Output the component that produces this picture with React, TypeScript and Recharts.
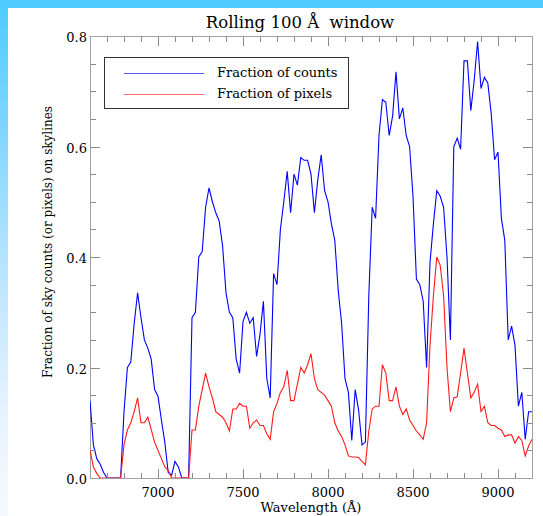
import React from "react";
import { LineChart, Line, XAxis, YAxis } from "recharts";

const WAVELENGTH = [
  6600, 6620, 6640, 6660, 6680, 6700, 6720, 6740, 6760, 6780,
  6800, 6820, 6840, 6860, 6880, 6900, 6920, 6940, 6960, 6980,
  7000, 7020, 7040, 7060, 7080, 7100, 7120, 7140, 7160, 7180,
  7200, 7220, 7240, 7260, 7280, 7300, 7320, 7340, 7360, 7380,
  7400, 7420, 7440, 7460, 7480, 7500, 7520, 7540, 7560, 7580,
  7600, 7620, 7640, 7660, 7680, 7700, 7720, 7740, 7760, 7780,
  7800, 7820, 7840, 7860, 7880, 7900, 7920, 7940, 7960, 7980,
  8000, 8020, 8040, 8060, 8080, 8100, 8120, 8140, 8160, 8180,
  8200, 8220, 8240, 8260, 8280, 8300, 8320, 8340, 8360, 8380,
  8400, 8420, 8440, 8460, 8480, 8500, 8520, 8540, 8560, 8580,
  8600, 8620, 8640, 8660, 8680, 8700, 8720, 8740, 8760, 8780,
  8800, 8820, 8840, 8860, 8880, 8900, 8920, 8940, 8960, 8980,
  9000, 9020, 9040, 9060, 9080, 9100, 9120, 9140, 9160, 9180,
  9200,
];

const FRACTION_COUNTS = [
  0.14, 0.06, 0.035, 0.025, 0.01, 0.0, 0.0, 0.0, 0.0, 0.0,
  0.12, 0.2, 0.21, 0.28, 0.335, 0.29, 0.25, 0.235, 0.215, 0.16,
  0.148, 0.105, 0.065, 0.01, 0.005, 0.03, 0.02, 0.0, 0.0, 0.0,
  0.29, 0.3, 0.4, 0.41, 0.49, 0.525, 0.5, 0.48, 0.465, 0.42,
  0.335, 0.3, 0.29, 0.215, 0.19, 0.283, 0.3, 0.28, 0.29, 0.22,
  0.26, 0.32, 0.18, 0.145, 0.37, 0.35, 0.45, 0.5, 0.555, 0.48,
  0.55, 0.53, 0.58, 0.575, 0.575, 0.55, 0.48, 0.54, 0.585, 0.52,
  0.5, 0.46, 0.43, 0.34, 0.28, 0.18, 0.155, 0.068, 0.16, 0.123,
  0.06, 0.065, 0.33, 0.49, 0.47, 0.62, 0.685, 0.68, 0.62, 0.655,
  0.735, 0.65, 0.67, 0.62, 0.6, 0.51, 0.36, 0.35, 0.32, 0.2,
  0.39, 0.46, 0.52, 0.51, 0.49, 0.4, 0.25, 0.6, 0.615, 0.595,
  0.755, 0.755, 0.665, 0.72, 0.79, 0.705, 0.725, 0.715, 0.66, 0.576,
  0.59, 0.47, 0.43, 0.25, 0.275, 0.24, 0.13, 0.155, 0.07, 0.12,
  0.12,
];

const FRACTION_PIXELS = [
  0.05, 0.02, 0.008, 0.0, 0.0, 0.0, 0.0, 0.0, 0.0, 0.0,
  0.06, 0.087, 0.1, 0.12, 0.145, 0.1, 0.1, 0.11, 0.088, 0.065,
  0.05, 0.035, 0.02, 0.014, 0.0, 0.0, 0.0, 0.0, 0.0, 0.0,
  0.087, 0.087, 0.13, 0.16, 0.19, 0.165, 0.145, 0.12, 0.115, 0.11,
  0.1, 0.085, 0.125, 0.125, 0.135, 0.13, 0.13, 0.09, 0.1, 0.105,
  0.095, 0.095, 0.08, 0.07, 0.12, 0.135, 0.155, 0.165, 0.195, 0.14,
  0.14, 0.17, 0.2, 0.19, 0.205, 0.225, 0.18, 0.16, 0.155, 0.15,
  0.14, 0.13, 0.1, 0.085, 0.075, 0.06, 0.04, 0.038, 0.038, 0.037,
  0.03, 0.024, 0.085, 0.125, 0.13, 0.13, 0.205, 0.19, 0.14, 0.14,
  0.165, 0.13, 0.115, 0.125, 0.105, 0.095, 0.085, 0.078, 0.07, 0.1,
  0.24, 0.33, 0.4, 0.385, 0.33, 0.2, 0.12, 0.145, 0.147, 0.19,
  0.235, 0.19, 0.145, 0.155, 0.17, 0.12, 0.13, 0.1, 0.095, 0.095,
  0.09, 0.087, 0.075, 0.078, 0.078, 0.063, 0.075, 0.068, 0.04, 0.058,
  0.07,
];

const X_TICKS = [
  6600, 6700, 6800, 6900, 7000, 7100, 7200, 7300, 7400, 7500, 7600, 7700, 7800,
  7900, 8000, 8100, 8200, 8300, 8400, 8500, 8600, 8700, 8800, 8900, 9000, 9100, 9200,
];
const Y_TICKS = [
  0, 0.05, 0.1, 0.15, 0.2, 0.25, 0.3, 0.35, 0.4, 0.45, 0.5, 0.55, 0.6, 0.65, 0.7, 0.75, 0.8,
];

const TITLE = "Rolling 100 Å  window";
const X_LABEL = "Wavelength (Å)";
const Y_LABEL = "Fraction of sky counts (or pixels) on skylines";
const SERIES_NAMES = ["Fraction of counts", "Fraction of pixels"];

const FONT = "'DejaVu Serif', 'Liberation Serif', serif";
const FRAME_COLOR = "#a0a0a0";
const TICK_COLOR = "#8a8a8a";
const BLUE = "#0000ff";
const RED = "#ff1a1a";

// layout of the plot box (px)
const PLOT_LEFT = 90;
const PLOT_TOP = 36;
const PLOT_RIGHT = 532;
const PLOT_BOTTOM = 478;

const data = WAVELENGTH.map((w, i) => ({
  w,
  counts: FRACTION_COUNTS[i],
  pixels: FRACTION_PIXELS[i],
}));

const isXMajor = (v: number) => Math.abs(v % 500) < 1e-6;
const isYMajor = (v: number) => Math.abs(v / 0.2 - Math.round(v / 0.2)) < 1e-6;

const XTick = (props: any) => {
  const { x, y, payload } = props;
  const v = payload.value;
  const major = isXMajor(v);
  const len = major ? 9 : 5;
  const xs = Math.round(x) + 0.5;
  const edge = v <= 6600 || v >= 9200;
  return (
    <g>
      {!edge ? (
        <>
          <line x1={xs} y1={y} x2={xs} y2={y - len} stroke={TICK_COLOR} strokeWidth={1} />
          <line x1={xs} y1={PLOT_TOP + 1} x2={xs} y2={PLOT_TOP + 1 + len} stroke={TICK_COLOR} strokeWidth={1} />
        </>
      ) : null}
      {major && !edge ? (
        <text x={x} y={y + 19} textAnchor="middle" fontFamily={FONT} fontSize={13} fill="#000">
          {v}
        </text>
      ) : null}
    </g>
  );
};

const YTick = (props: any) => {
  const { x, y, payload } = props;
  const v = payload.value;
  const major = isYMajor(v);
  const len = major ? 9 : 5;
  const ys = Math.round(y) + 0.5;
  const edge = v <= 0 || v >= 0.8;
  return (
    <g>
      {!edge ? (
        <>
          <line x1={x + 1} y1={ys} x2={x + 1 + len} y2={ys} stroke={TICK_COLOR} strokeWidth={1} />
          <line x1={PLOT_RIGHT} y1={ys} x2={PLOT_RIGHT - len} y2={ys} stroke={TICK_COLOR} strokeWidth={1} />
        </>
      ) : null}
      {major ? (
        <text x={x - 3} y={y + 6} textAnchor="end" fontFamily={FONT} fontSize={13} fill="#000">
          {v.toFixed(1)}
        </text>
      ) : null}
    </g>
  );
};

const LegendBox = () => (
  <div
    style={{
      position: "absolute",
      left: 104,
      top: 57,
      width: 245,
      height: 52,
      border: "1px solid #333",
      boxSizing: "border-box",
      background: "#fff",
      fontFamily: FONT,
      fontSize: 13,
      color: "#000",
    }}
  >
    {[BLUE, RED].map((c, i) => (
      <div key={i} style={{ position: "absolute", left: 0, top: 5 + i * 21, height: 20, width: 243 }}>
        <svg width={90} height={20} style={{ position: "absolute", left: 19, top: 0 }}>
          <line x1={0} y1={10.5} x2={80} y2={10.5} stroke={c} strokeWidth={1} strokeOpacity={0.65} />
        </svg>
        <span style={{ position: "absolute", left: 112, top: 1, lineHeight: "18px", whiteSpace: "nowrap" }}>
          {SERIES_NAMES[i]}
        </span>
      </div>
    ))}
  </div>
);

export default function App() {
  return (
    <div style={{ position: "absolute", left: 0, top: 0, width: 543, height: 516, overflow: "hidden" }}>
      <div
        style={{
          position: "absolute",
          left: 0,
          top: 0,
          width: 543,
          height: 516,
          background: "linear-gradient(to bottom, #4ecbff 0%, #7fd6ff 25%, #bfe6ff 55%, #e6f3ff 80%, #f6faff 100%)",
        }}
      />
      <div style={{ position: "absolute", left: 8, top: 8, width: 535, height: 508, background: "#fff" }} />
      <div
        style={{
          position: "absolute",
          left: 300,
          top: 22,
          transform: "translate(-50%, -50%)",
          fontFamily: FONT,
          fontSize: 16.5,
          whiteSpace: "pre",
          color: "#000",
        }}
      >
        {TITLE}
      </div>
      <div
        style={{
          position: "absolute",
          left: 311,
          top: 507,
          transform: "translate(-50%, -50%)",
          fontFamily: FONT,
          fontSize: 13,
          whiteSpace: "nowrap",
          color: "#000",
        }}
      >
        {X_LABEL}
      </div>
      <div
        style={{
          position: "absolute",
          left: 48,
          top: 242,
          transform: "translate(-50%, -50%) rotate(-90deg)",
          fontFamily: FONT,
          fontSize: 12,
          whiteSpace: "nowrap",
          color: "#000",
        }}
      >
        {Y_LABEL}
      </div>
      <div
        style={{
          position: "absolute",
          left: PLOT_LEFT,
          top: PLOT_TOP,
          width: PLOT_RIGHT - PLOT_LEFT + 1,
          height: PLOT_BOTTOM - PLOT_TOP + 1,
          border: `1px solid ${FRAME_COLOR}`,
          boxSizing: "border-box",
        }}
      />
      <div style={{ position: "absolute", left: 0, top: 0 }}>
        <LineChart
          width={543}
          height={516}
          data={data}
          margin={{ top: PLOT_TOP, right: 543 - PLOT_RIGHT, bottom: 516 - PLOT_BOTTOM - 30, left: PLOT_LEFT - 50 }}
        >
          <XAxis
            dataKey="w"
            type="number"
            domain={[6600, 9200]}
            allowDataOverflow
            ticks={X_TICKS}
            interval={0}
            tickSize={0}
            tickMargin={0}
            tickLine={false}
            axisLine={false}
            height={30}
            tick={(p: any) => <XTick {...p} />}
          />
          <YAxis
            type="number"
            domain={[0, 0.8]}
            allowDataOverflow
            ticks={Y_TICKS}
            interval={0}
            tickSize={0}
            tickMargin={0}
            tickLine={false}
            axisLine={false}
            width={50}
            tick={(p: any) => <YTick {...p} />}
          />
          <Line
            dataKey="counts"
            name={SERIES_NAMES[0]}
            type="linear"
            stroke={BLUE}
            strokeWidth={1.1}
            dot={false}
            isAnimationActive={false}
          />
          <Line
            dataKey="pixels"
            name={SERIES_NAMES[1]}
            type="linear"
            stroke={RED}
            strokeWidth={1.1}
            dot={false}
            isAnimationActive={false}
          />
        </LineChart>
      </div>
      <LegendBox />
    </div>
  );
}
